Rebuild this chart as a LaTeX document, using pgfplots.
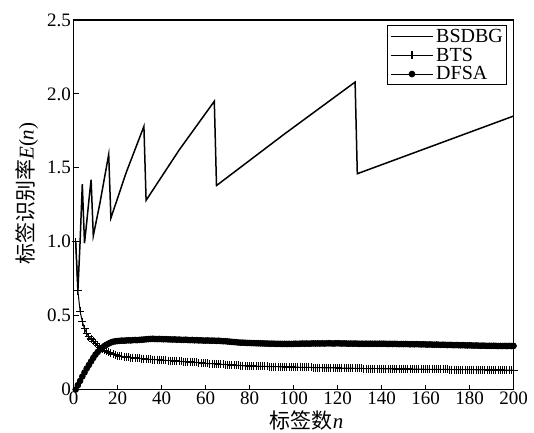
\documentclass[border=0pt]{standalone}
\usepackage{fontspec}
\setmainfont{Liberation Serif}
\newfontfamily\cjk{Noto Sans CJK SC}
\usepackage{pgfplots}
\pgfplotsset{compat=1.18}

\begin{document}
\begin{tikzpicture}
\begin{axis}[
    scale only axis,
    width=440pt, height=369.5pt,
    xmin=0, xmax=200, ymin=0, ymax=2.5,
    xtick={0,20,...,200},
    ytick={0,0.5,1,1.5,2,2.5},
    yticklabels={0,0.5,1.0,1.5,2.0,2.5},
    tick align=inside,
    xtick pos=bottom, ytick pos=left,
    major tick length=5pt,
    axis line style={line width=1.2pt},
    tick style={line width=1pt, black},
    /pgf/number format/assume math mode=true,
    tick label style={font=\fontsize{19}{21}\selectfont},
    xticklabel style={yshift=1pt},
    yticklabel style={xshift=1pt},
    xlabel={{\cjk 标签数}\textit{n}},
    ylabel={{\cjk 标签识别率}\textit{E}(\textit{n})},
    label style={font=\fontsize{21}{23}\selectfont},
    xlabel style={at={(axis description cs:0.53,-0.083)}, anchor=center},
    ylabel style={at={(axis description cs:-0.106,0.53)}, anchor=center},
    legend style={at={(0.985,0.986)}, anchor=north east, draw=black, line width=1pt,
        font=\fontsize{20}{21}\selectfont, inner xsep=3pt, inner ysep=3pt, row sep=3pt,
        nodes={inner sep=0.5pt},
        /tikz/every odd column/.append style={column sep=2pt}},
    legend cell align=left,
    legend image code/.code={\draw[mark repeat=2,mark phase=2] plot coordinates {(0pt,0pt) (21pt,0pt) (42pt,0pt)};},
]
% BSDBG
\addplot[black, line width=1.5pt, no marks] coordinates {
(1,1.00) (2,0.67) (3,1.00) (4,1.39) (5,0.99) (6,1.13) (7,1.28) (8,1.42) (9,1.04)
(12,1.26) (16,1.59) (17,1.16) (24,1.47) (32,1.78) (33,1.28) (48,1.62) (64,1.95)
(65,1.38) (96,1.73) (128,2.08) (129,1.46) (200,1.85)
};
\addlegendentry{BSDBG}
% BTS
\addplot[black, line width=1pt, mark=+, mark size=4pt, mark options={line width=1.1pt}] coordinates {
(1,1.000) (2,0.667) (3,0.530) (4,0.460) (5,0.412) (6,0.380) (7,0.358) (8,0.342) (9,0.326) (10,0.312)
(11,0.298) (12,0.286) (13,0.275) (14,0.266) (15,0.258) (16,0.251) (17,0.245) (18,0.239) (19,0.234) (20,0.229)
(21,0.226) (22,0.224) (23,0.222) (24,0.220) (25,0.218) (26,0.216) (27,0.215) (28,0.213) (29,0.212) (30,0.210)
(31,0.209) (32,0.208) (33,0.206) (34,0.205) (35,0.204) (36,0.203) (37,0.202) (38,0.201) (39,0.200) (40,0.199)
(41,0.198) (42,0.197) (43,0.196) (44,0.195) (45,0.194) (46,0.193) (47,0.192) (48,0.191) (49,0.190) (50,0.189)
(51,0.188) (52,0.187) (53,0.186) (54,0.185) (55,0.184) (56,0.183) (57,0.182) (58,0.180) (59,0.178) (60,0.177)
(61,0.176) (62,0.175) (63,0.175) (64,0.174) (65,0.173) (66,0.172) (67,0.171) (68,0.170) (69,0.169) (70,0.168)
(71,0.167) (72,0.166) (73,0.165) (74,0.164) (75,0.163) (76,0.162) (77,0.161) (78,0.160) (79,0.160) (80,0.159)
(81,0.159) (82,0.158) (83,0.158) (84,0.157) (85,0.157) (86,0.157) (87,0.156) (88,0.156) (89,0.155) (90,0.155)
(91,0.155) (92,0.154) (93,0.154) (94,0.153) (95,0.153) (96,0.153) (97,0.152) (98,0.152) (99,0.152) (100,0.151)
(101,0.151) (102,0.151) (103,0.150) (104,0.150) (105,0.150) (106,0.149) (107,0.149) (108,0.149) (109,0.148) (110,0.148)
(111,0.148) (112,0.148) (113,0.147) (114,0.147) (115,0.147) (116,0.147) (117,0.146) (118,0.146) (119,0.146) (120,0.146)
(121,0.145) (122,0.145) (123,0.145) (124,0.144) (125,0.144) (126,0.144) (127,0.144) (128,0.143) (129,0.143) (130,0.143)
(131,0.143) (132,0.142) (133,0.142) (134,0.142) (135,0.142) (136,0.141) (137,0.141) (138,0.141) (139,0.141) (140,0.141)
(141,0.140) (142,0.140) (143,0.140) (144,0.140) (145,0.140) (146,0.140) (147,0.139) (148,0.139) (149,0.139) (150,0.139)
(151,0.139) (152,0.139) (153,0.138) (154,0.138) (155,0.138) (156,0.138) (157,0.138) (158,0.138) (159,0.137) (160,0.137)
(161,0.137) (162,0.137) (163,0.137) (164,0.137) (165,0.136) (166,0.136) (167,0.136) (168,0.136) (169,0.136) (170,0.136)
(171,0.135) (172,0.135) (173,0.135) (174,0.135) (175,0.135) (176,0.135) (177,0.134) (178,0.134) (179,0.134) (180,0.134)
(181,0.134) (182,0.134) (183,0.133) (184,0.133) (185,0.133) (186,0.133) (187,0.133) (188,0.133) (189,0.132) (190,0.132)
(191,0.132) (192,0.132) (193,0.132) (194,0.132) (195,0.131) (196,0.131) (197,0.131) (198,0.131) (199,0.131) (200,0.130)
};
\addlegendentry{BTS}
% DFSA
\addplot[black, line width=1pt, mark=*, mark size=2.8pt] coordinates {
(1,0.000) (2,0.030) (3,0.058) (4,0.088) (5,0.115) (6,0.142) (7,0.166) (8,0.190) (9,0.214) (10,0.236)
(11,0.254) (12,0.270) (13,0.283) (14,0.294) (15,0.303) (16,0.311) (17,0.318) (18,0.323) (19,0.326) (20,0.328)
(21,0.329) (22,0.331) (23,0.330) (24,0.332) (25,0.333) (26,0.332) (27,0.334) (28,0.335) (29,0.334) (30,0.336)
(31,0.337) (32,0.338) (33,0.340) (34,0.341) (35,0.342) (36,0.343) (37,0.342) (38,0.341) (39,0.342) (40,0.341)
(41,0.340) (42,0.341) (43,0.339) (44,0.339) (45,0.338) (46,0.339) (47,0.337) (48,0.338) (49,0.336) (50,0.336)
(51,0.337) (52,0.335) (53,0.334) (54,0.335) (55,0.333) (56,0.334) (57,0.332) (58,0.333) (59,0.331) (60,0.331)
(61,0.332) (62,0.330) (63,0.331) (64,0.330) (65,0.329) (66,0.330) (67,0.328) (68,0.327) (69,0.327) (70,0.325)
(71,0.324) (72,0.322) (73,0.321) (74,0.320) (75,0.318) (76,0.317) (77,0.317) (78,0.316) (79,0.315) (80,0.315)
(81,0.314) (82,0.314) (83,0.313) (84,0.313) (85,0.312) (86,0.312) (87,0.311) (88,0.311) (89,0.310) (90,0.310)
(91,0.310) (92,0.309) (93,0.309) (94,0.309) (95,0.308) (96,0.309) (97,0.308) (98,0.309) (99,0.308) (100,0.309)
(101,0.310) (102,0.309) (103,0.310) (104,0.311) (105,0.310) (106,0.311) (107,0.310) (108,0.311) (109,0.312) (110,0.311)
(111,0.312) (112,0.311) (113,0.312) (114,0.311) (115,0.312) (116,0.313) (117,0.312) (118,0.311) (119,0.312) (120,0.313)
(121,0.312) (122,0.311) (123,0.312) (124,0.311) (125,0.310) (126,0.311) (127,0.310) (128,0.311) (129,0.310) (130,0.309)
(131,0.310) (132,0.309) (133,0.310) (134,0.309) (135,0.310) (136,0.309) (137,0.310) (138,0.309) (139,0.310) (140,0.309)
(141,0.310) (142,0.309) (143,0.308) (144,0.309) (145,0.308) (146,0.309) (147,0.308) (148,0.307) (149,0.308) (150,0.307)
(151,0.308) (152,0.307) (153,0.306) (154,0.307) (155,0.306) (156,0.307) (157,0.306) (158,0.305) (159,0.306) (160,0.305)
(161,0.304) (162,0.305) (163,0.304) (164,0.303) (165,0.304) (166,0.303) (167,0.302) (168,0.303) (169,0.302) (170,0.301)
(171,0.302) (172,0.301) (173,0.300) (174,0.301) (175,0.300) (176,0.299) (177,0.300) (178,0.299) (179,0.298) (180,0.299)
(181,0.298) (182,0.297) (183,0.298) (184,0.297) (185,0.296) (186,0.297) (187,0.296) (188,0.295) (189,0.296) (190,0.295)
(191,0.296) (192,0.295) (193,0.294) (194,0.295) (195,0.294) (196,0.295) (197,0.294) (198,0.295) (199,0.294) (200,0.295)
};
\addlegendentry{DFSA}
\end{axis}
\pgfresetboundingbox
\path[use as bounding box] ([shift={(-73.5pt,-42.5pt)}]current axis.south west) rectangle ([shift={(20.5pt,20pt)}]current axis.north east);
\end{tikzpicture}
\end{document}
